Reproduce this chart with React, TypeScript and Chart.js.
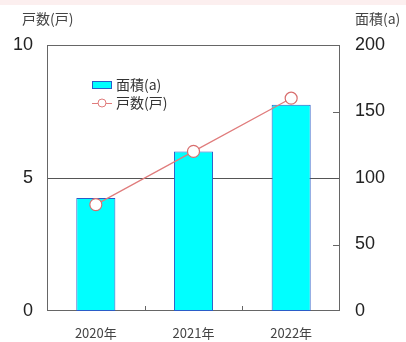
import React, { useEffect, useRef } from "react";
import { Chart, registerables } from "chart.js";

Chart.register(...registerables);

const categories = ["2020年", "2021年", "2022年"];
const areaValues = [85, 120, 155]; // 面積(a)
const householdValues = [4, 6, 8]; // 戸数(戸)
const leftTitle = "戸数(戸)";
const rightTitle = "面積(a)";
const areaLabel = "面積(a)";
const householdLabel = "戸数(戸)";

const CJK = '"Noto Sans CJK JP", "Liberation Sans", sans-serif';
const NUM = '"Liberation Sans", Arial, sans-serif';

const decorPlugin = {
  id: "decor",
  beforeDraw(chart: any) {
    const { ctx, width } = chart;
    ctx.save();
    ctx.fillStyle = "#ffffff";
    ctx.fillRect(0, 0, width, chart.height);
    ctx.fillStyle = "#fcefef";
    ctx.fillRect(0, 0, width, 5);
    ctx.restore();
  },
  beforeDatasetsDraw(chart: any) {
    const { ctx, chartArea } = chart;
    const { left, right, top, bottom } = chartArea;
    ctx.save();
    ctx.strokeStyle = "#666666";
    ctx.lineWidth = 1;
    ctx.strokeRect(left + 0.5, top + 0.5, right - left - 1, bottom - top - 1);
    const xs = chart.scales.x;
    ctx.beginPath();
    for (let i = 0; i < categories.length - 1; i++) {
      const px = Math.round((xs.getPixelForValue(i) + xs.getPixelForValue(i + 1)) / 2) + 0.5;
      ctx.moveTo(px, bottom);
      ctx.lineTo(px, bottom - 5);
    }
    const y1 = chart.scales.y1;
    [50, 150].forEach((v) => {
      const py = Math.round(y1.getPixelForValue(v)) + 0.5;
      ctx.moveTo(right, py);
      ctx.lineTo(right - 7, py);
    });
    ctx.stroke();
    ctx.restore();
  },
  afterDraw(chart: any) {
    const { ctx, chartArea } = chart;
    const { left, top, right } = chartArea;
    ctx.save();
    ctx.fillStyle = "#444444";
    ctx.font = `14px ${CJK}`;
    ctx.textBaseline = "middle";
    ctx.textAlign = "left";
    ctx.fillText(leftTitle, 22, 19);
    ctx.fillText(rightTitle, right + 15, 19);

    const lx = left + 45;
    const ly = top + 40;
    ctx.fillStyle = "#00ffff";
    ctx.fillRect(lx, ly - 4, 20, 8);
    ctx.strokeStyle = "#2a5cc8";
    ctx.lineWidth = 1;
    ctx.strokeRect(lx + 0.5, ly - 3.5, 19, 7);
    ctx.fillStyle = "#333333";
    ctx.fillText(areaLabel, lx + 24, ly);

    const ly2 = ly + 18;
    ctx.strokeStyle = "#e07c7c";
    ctx.beginPath();
    ctx.moveTo(lx, ly2 + 0.5);
    ctx.lineTo(lx + 20, ly2 + 0.5);
    ctx.stroke();
    ctx.fillStyle = "#ffffff";
    ctx.beginPath();
    ctx.arc(lx + 10, ly2, 4, 0, Math.PI * 2);
    ctx.fill();
    ctx.stroke();
    ctx.fillStyle = "#333333";
    ctx.fillText(householdLabel, lx + 24, ly2);
    ctx.restore();
  },
};

export default function App() {
  const ref = useRef<HTMLCanvasElement>(null);
  useEffect(() => {
    if (!ref.current) return;
    const chart = new Chart(ref.current, {
      type: "bar",
      data: {
        labels: categories,
        datasets: [
          {
            type: "line",
            label: householdLabel,
            data: householdValues,
            yAxisID: "y",
            borderColor: "#e07c7c",
            borderWidth: 1.2,
            pointRadius: 6,
            pointBackgroundColor: "#ffffff",
            pointBorderColor: "#d86e6e",
            pointBorderWidth: 1.2,
            order: 0,
          } as any,
          {
            type: "bar",
            label: areaLabel,
            data: areaValues,
            yAxisID: "y1",
            backgroundColor: "#00ffff",
            borderColor: "#2a5cc8",
            borderWidth: 1,
            borderSkipped: false,
            categoryPercentage: 1,
            barPercentage: 0.4,
            order: 1,
          },
        ],
      },
      options: {
        animation: false,
        responsive: false,
        layout: { padding: { top: 45, left: 0, right: 0, bottom: 0 } },
        plugins: { legend: { display: false }, tooltip: { enabled: false } },
        scales: {
          x: {
            grid: { display: false },
            border: { display: false },
            ticks: { color: "#444444", font: { size: 13, family: CJK }, padding: 6 },
            afterFit: (s: any) => { s.height = 31; },
          },
          y: {
            position: "left",
            min: 0,
            max: 10,
            afterBuildTicks: (s: any) => { s.ticks = [0, 5, 10].map((v) => ({ value: v })); },
            grid: {
              drawTicks: false,
              color: (c: any) => (c.tick && c.tick.value === 5 ? "#555555" : "rgba(0,0,0,0)"),
            },
            border: { display: false },
            ticks: { color: "#222222", font: { size: 18, family: NUM }, padding: 14 },
            afterFit: (s: any) => { s.width = 47; },
          },
          y1: {
            position: "right",
            min: 0,
            max: 200,
            afterBuildTicks: (s: any) => { s.ticks = [0, 50, 100, 150, 200].map((v) => ({ value: v })); },
            grid: { display: false, drawTicks: false },
            border: { display: false },
            ticks: { color: "#222222", font: { size: 18, family: NUM }, padding: 15 },
            afterFit: (s: any) => { s.width = 66; },
          },
        },
      },
      plugins: [decorPlugin],
    });
    return () => chart.destroy();
  }, []);
  return (
    <div style={{ position: "fixed", left: 0, top: 0, width: 406, height: 342 }}>
      <canvas ref={ref} width={406} height={342} style={{ display: "block" }} />
    </div>
  );
}
